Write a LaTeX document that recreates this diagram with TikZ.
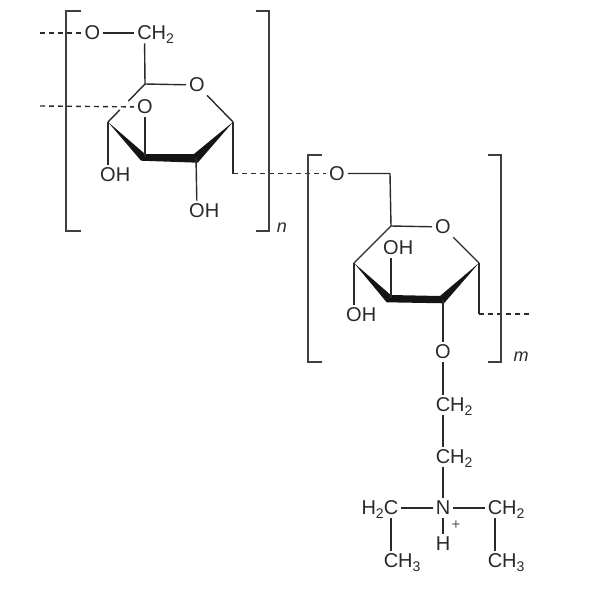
\documentclass[tikz,border=0pt]{standalone}
\usepackage{fontspec}
\usetikzlibrary{calc}
\setmainfont{Liberation Sans}
\definecolor{ink}{HTML}{2A2A2A}
\newcommand{\lowt}[1]{\raisebox{-4pt}{\fontsize{14}{14}\selectfont #1}}
\newcommand{\tailr}[1]{\rlap{\smash{#1}}}
\newcommand{\taill}[1]{\llap{\smash{#1}}}
\tikzset{
  atom/.style={inner sep=3pt,text=ink,font=\fontsize{20}{21}\selectfont},
  bond/.style={draw=ink,line width=1.4pt},
  chain/.style={draw=ink,line width=1.4pt,dash pattern=on 5pt off 4pt},
  wedgefill/.style={fill=black!92,draw=none},
  brack/.style={draw=ink!90,line width=1.6pt},
  idx/.style={inner sep=0pt,text=ink,font=\fontsize{18}{18}\selectfont\itshape},
  plus/.style={inner sep=0pt,text=ink!80,font=\fontsize{15}{15}\selectfont}
}
\begin{document}
\begin{tikzpicture}[x=1pt,y=-1pt]
\useasboundingbox (0,0) rectangle (600,600);
\fill[white] (0,0) rectangle (600,600);
% --- unit n: vertices
\coordinate (a1) at (233,122);
\coordinate (a2) at (196,157);
\coordinate (a3) at (145,157);
\coordinate (a4) at (108,122);
\coordinate (a5) at (145,84);
\coordinate (a6) at (233,173.5);
\coordinate (ad1) at (40,33);
\coordinate (ad2) at (40,106);
\node[atom] (ao1) at (92.5,33) {O};
\node[atom] (ach) at (144.5,33) {C\tailr{H\lowt{2}}};
\node[atom] (aor) at (197,85) {O};
\node[atom] (ao3) at (145,107) {O};
\node[atom] (aoh1) at (108,175) {O\tailr{H}};
\node[atom] (aoh2) at (197,211) {O\tailr{H}};
\fill[wedgefill] (a4) -- (145,154) -- (194,154) -- (a1) -- (197.7,162.7) -- (141,160.7) -- cycle;
\draw[bond] (ao1) -- (ach);
\draw[bond] (ach) -- (a5);
\draw[bond] (a5) -- (aor);
\draw[bond] (aor) -- (a1);
\draw[bond] (a1) -- (a6);
\draw[bond] (a5) -- ($(a5)!0.45!(a4)$);
\draw[bond] ($(a5)!0.68!(a4)$) -- (a4);
\draw[bond] (ao3) -- (a3);
\draw[bond] (a4) -- (aoh1);
\draw[bond] (a2) -- (aoh2);
\draw[chain] (ad1) -- (ao1);
\draw[chain] (ad2) -- (ao3);
% --- unit m: vertices
\coordinate (b1) at (479,263);
\coordinate (b2) at (443,300);
\coordinate (b3) at (391,298);
\coordinate (b4) at (354,263);
\coordinate (b5) at (391,226);
\coordinate (b6) at (390,173.5);
\coordinate (b7) at (479,314);
\coordinate (bd) at (532,314);
\node[atom] (bo1) at (337,173.5) {O};
\node[atom] (bor) at (443,227) {O};
\node[atom] (boh1) at (391,248) {O\tailr{H}};
\node[atom] (boh2) at (354,315) {O\tailr{H}};
\node[atom] (bo2) at (443,352) {O};
\fill[wedgefill] (b4) -- (390.7,295) -- (440,296) -- (b1) -- (444,303.3) -- (386.7,302.3) -- cycle;
\draw[bond,line join=round] (bo1) -- (b6) -- (b5);
\draw[bond] (b5) -- (bor);
\draw[bond] (bor) -- (b1);
\draw[bond] (b5) -- (b4);
\draw[bond] (b1) -- (b7);
\draw[bond] (b4) -- (boh2);
\draw[bond] (boh1) -- (b3);
\draw[bond] (b2) -- (bo2);
\draw[chain] (a6) -- (bo1);
\draw[chain] (b7) -- (bd);
% --- side chain
\node[atom] (ch1) at (443,405) {C\tailr{H\lowt{2}}};
\node[atom] (ch2) at (443,457) {C\tailr{H\lowt{2}}};
\node[atom] (nn) at (443,508) {N};
\node[atom] (hh) at (443,544) {H};
\node[plus] (pp) at (456,525) {+};
\node[atom] (cl) at (391,508) {\taill{H\lowt{2}}C};
\node[atom] (cr) at (495,508) {C\tailr{H\lowt{2}}};
\node[atom] (ml) at (391,561) {C\tailr{H\lowt{3}}};
\node[atom] (mr) at (495,561) {C\tailr{H\lowt{3}}};
\draw[bond] (bo2) -- (ch1);
\draw[bond] (ch1) -- (ch2);
\draw[bond] (ch2) -- (nn);
\draw[bond] (nn) -- (hh);
\draw[bond] (cl) -- (nn);
\draw[bond] (nn) -- (cr);
\draw[bond] (cl) -- (ml);
\draw[bond] (cr) -- (mr);
% --- brackets
\draw[brack] (81,11) -- (66,11) -- (66,231) -- (81,231);
\draw[brack] (256,11) -- (269,11) -- (269,231) -- (256,231);
\draw[brack] (322,155) -- (308,155) -- (308,362) -- (322,362);
\draw[brack] (488,155) -- (501,155) -- (501,362) -- (488,362);
\node[idx] (nlab) at (282,228) {n};
\node[idx] (mlab) at (521,357) {m};
\end{tikzpicture}
\end{document}
